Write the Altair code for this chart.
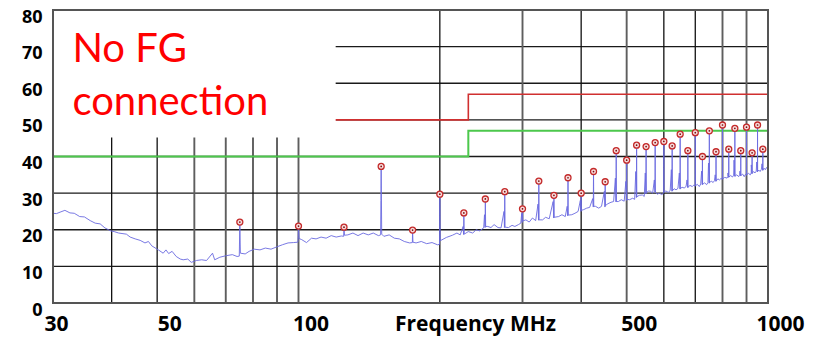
import altair as alt
import pandas as pd

# ---------------- data ----------------
# noise floor of the measured trace (MHz, dBuV)
noise_freq = [30, 30.5, 31.2, 31.8, 32.6, 33.3, 34.2, 35, 36, 36.9, 37.8, 38.7, 39.8, 40.5, 41.4, 43,
              43.8, 44.9, 46, 47.1, 47.9, 48.7, 50.3, 51.5, 52.2, 52.9, 53.8, 54.9, 56, 56.8, 58.1,
              59.1, 60.6, 62.2, 63.7, 65.6, 66.3, 68, 70, 72.3, 74, 74.8, 75.2, 77, 78.5, 80.5, 82.8,
              85, 87.4, 89.8, 92.4, 95, 97.5, 99.7, 100.3, 101.6, 104, 106.6, 109, 111.7, 114.5,
              117.4, 120.3, 123.4, 124.8, 125.3, 127.4, 130.6, 133.9, 137.3, 140.8, 144.3, 148,
              149.6, 150.4, 152, 156, 160, 164, 168, 172.5, 174.8, 175.3, 178, 182.6, 187.5, 192.5,
              197.7, 199.7, 200.4, 206.5, 212.7, 217.5, 221, 224.7, 225.4, 230, 235, 239, 243, 248,
              249.7, 250.4, 253, 257, 261, 266, 270, 274.6, 275.4, 280, 285, 289, 294, 297.5, 299.6,
              300.4, 305, 310, 315, 320, 324.6, 325.4, 331, 336, 342, 349.6, 350.4, 358, 364, 370,
              374.5, 375.5, 382, 388, 394, 399.5, 400.5, 405, 411, 417, 424.5, 425.5, 429, 436, 442,
              449.5, 450.5, 456, 463, 469, 474.5, 475.5, 480, 487, 494, 499.5, 500.5, 507, 515, 520,
              524.5, 525.5, 532, 540, 545, 549.5, 550.5, 556, 562, 568, 574.5, 575.5, 581, 587, 594,
              599.5, 600.5, 606, 613, 619, 624.5, 625.5, 631, 637, 643, 649.5, 650.5, 656, 663, 669,
              674.5, 675.5, 682, 690, 695, 699.5, 700.5, 707, 714, 719, 724.5, 725.5, 733, 740, 745,
              749.5, 750.5, 757, 764, 769, 774.5, 775.5, 782, 788, 794, 799.5, 800.5, 809, 818, 821,
              824.5, 825.5, 833, 840, 845, 849.5, 850.5, 858, 866, 870, 874.5, 875.5, 883, 890, 895,
              899.5, 900.5, 908, 917, 921, 924.5, 925.5, 932, 938, 944, 949.5, 950.5, 956, 962, 968,
              974.5, 975.5, 981, 987, 993, 1000]
noise_level = [24.5, 24.4, 24.9, 25.3, 24.6, 24.5, 23.6, 23.5, 22.5, 21.8, 21.6, 20.5, 19.7, 19.5, 19.1, 18.8,
               18.0, 17.5, 17.1, 16.4, 16.8, 15.6, 14.5, 13.6, 14.5, 13.5, 14.1, 12.7, 12.0, 11.8, 12.0,
               11.1, 11.6, 11.8, 11.6, 13.6, 11.8, 12.5, 12.9, 13.2, 12.7, 12.8, 13.6, 13.4, 14.1, 14.7, 14.5,
               15.0, 14.7, 15.3, 15.9, 16.4, 16.5, 16.6, 17.6, 17.3, 16.5, 17.7, 17.5, 18.0, 17.7,
               18.4, 18.0, 18.3, 18.2, 18.5, 18.6, 19.1, 18.4, 19.1, 18.6, 19.1, 18.4,
               18.6, 18.8, 18.2, 18.6, 17.7, 17.5, 16.8, 16.4, 16.5, 16.6, 16.4, 16.8, 16.2, 16.5,
               15.9, 16.0, 17.0, 17.9, 18.5, 19.1, 18.6, 18.7, 18.8, 19.5, 19.1, 20.0, 19.7, 20.5,
               20.6, 20.9, 20.9, 20.6, 21.4, 20.6, 20.5, 20.6, 20.7, 20.6, 21.2, 20.9, 21.4, 21.8, 22.0,
               22.4, 22.7, 22.1, 23.2, 22.5, 22.6, 22.7, 22.7, 23.4, 23.0, 23.2, 23.4, 23.6, 24.1, 23.6,
               23.8, 24.0, 24.1, 24.5, 25.0, 25.0, 25.3, 25.5, 25.9, 26.1, 26.2, 26.4, 26.4, 25.9, 26.4,
               26.2, 26.6, 27.1, 27.5, 27.7, 27.6, 27.7, 27.7, 28.2, 27.8, 28.0, 28.3, 28.2, 28.6, 28.3,
               28.8, 29.0, 29.4, 29.5, 29.1, 29.8, 30.0, 30.6, 30.5, 30.0, 30.2, 30.3, 29.7, 30.0, 29.6,
               30.0, 30.2, 30.6, 30.2, 30.7, 30.5, 30.6, 31.2, 30.9, 31.3, 31.1, 31.2, 31.6, 31.4, 31.8,
               31.5, 31.6, 32.1, 31.8, 32.2, 31.9, 32.0, 32.4, 31.8, 32.5, 32.3, 32.4, 32.8, 32.3, 32.9,
               32.7, 32.8, 33.3, 32.9, 33.4, 33.2, 33.3, 33.9, 33.6, 34.0, 33.8, 33.9, 34.3, 34.1, 34.5,
               34.3, 34.4, 34.8, 34.4, 34.9, 34.6, 34.6, 35.0, 34.5, 35.0, 34.7, 34.8, 35.2, 34.5, 35.1,
               34.9, 35.0, 35.4, 35.0, 35.5, 35.3, 35.4, 35.9, 35.5, 36.0, 35.8, 35.9, 36.3, 35.9, 36.5,
               36.2, 36.3, 36.8, 36.4, 37.0, 36.5]

# partial rise (secondary line) at the foot of the emissions
shoulder_freq = [99.85, 149.8, 199.85, 224.2, 249.0, 274.0, 298.8, 323.7, 348.6, 373.5, 398.4, 423.3,
                 448.2, 473.1, 498.0, 522.9, 547.8, 572.7, 599.8, 622.5, 647.4, 672.3, 699.8, 722.1,
                 747.0, 771.9, 799.8, 821.7, 846.6, 871.5, 899.8, 921.3, 946.2, 971.1]
shoulder_level = [18.2, 28.0, 24.0, 20.9, 24.1, 25.0, 24.5, 27.0, 27.7, 26.4, 28.0, 28.5,
                  30.5, 34.1, 33.2, 35.9, 35.5, 33.6, 37.0, 36.4, 35.5, 33.6, 39.0, 36.0,
                  38.2, 35.0, 39.5, 35.5, 39.0, 36.0, 40.0, 37.7, 38.5, 38.0]

# marked peaks (red circles)
peak_freq = [75, 100, 125, 150, 175, 200, 225, 250, 275, 300, 325, 350, 375, 400, 425, 450, 475,
             500, 525, 550, 575, 600, 625, 650, 675, 700, 725, 750, 775, 800, 825, 850, 875, 900,
             925, 950, 975]
peak_level = [22.1, 21.0, 20.7, 37.3, 19.9, 29.7, 24.6, 28.4, 30.4, 25.7, 33.3, 29.4, 34.2, 30.0,
              35.9, 33.1, 41.6, 39.0, 43.1, 42.7, 43.8, 44.1, 42.9, 46.1, 41.6, 46.5, 40.0, 47.0,
              41.3, 48.6, 42.0, 47.7, 41.6, 48.0, 41.0, 48.6, 42.0]

# limit lines
red_limit_freq = [30, 230, 230, 1000]
red_limit_level = [50, 50, 57, 57]
green_limit_freq = [30, 230, 230, 1000]
green_limit_level = [40, 40, 47, 47]

# grid
grid_v_freq = [40, 50, 60, 70, 80, 90, 100, 200, 300, 400, 500, 600, 700, 800, 900]
grid_v_shade = ["d", "d", "l", "l", "d", "d", "l", "d", "l", "d", "l", "d", "d", "l", "l"]
grid_h_level = [10, 20, 30, 40, 50, 60, 70]

# axes
x_ticks = [30, 50, 100, 500, 1000]
y_ticks = [0, 10, 20, 30, 40, 50, 60, 70, 80]
x_domain = [30, 1000]
y_domain = [0, 80]

# annotation
note_lines = ["No FG", "connection"]
note_freq = [33, 33]
note_level = [65.7, 51.3]
note_box_freq = [30, 120]
note_box_level = [45.2, 80]

# ---------------- tables ----------------
trace = pd.DataFrame({
    "f": noise_freq + shoulder_freq + peak_freq,
    "v": noise_level + shoulder_level + peak_level,
}).sort_values("f")
peaks = pd.DataFrame({"f": peak_freq, "v": peak_level})
red = pd.DataFrame({"f": red_limit_freq, "v": red_limit_level, "i": range(4)})
green = pd.DataFrame({"f": green_limit_freq, "v": green_limit_level, "i": range(4)})
vgrid = pd.DataFrame({"f": grid_v_freq, "v": y_domain[0], "v2": y_domain[1], "s": grid_v_shade})
hgrid = pd.DataFrame({"f": x_domain[0], "f2": x_domain[1], "v": grid_h_level})
box = pd.DataFrame({"f": [note_box_freq[0]], "f2": [note_box_freq[1]],
                    "v": [note_box_level[0]], "v2": [note_box_level[1]]})
frame = pd.DataFrame({"f": [x_domain[0]], "f2": [x_domain[1]], "v": [y_domain[0]], "v2": [y_domain[1]]})
note = pd.DataFrame({"f": note_freq, "v": note_level, "t": note_lines})

xs = alt.Scale(type="log", domain=x_domain, nice=False)
ys = alt.Scale(domain=y_domain, nice=False, zero=False)

x_axis = alt.Axis(
    values=x_ticks, format="d", grid=False, ticks=False, tickSize=0, domain=False,
    labelFont="Open Sans", labelFontWeight="bold", labelFontSize=21, labelColor="black",
    labelPadding=27, labelBaseline="alphabetic", labelOverlap=False, labelFlush=False, labelBound=False,
    labelOffset={"condition": {"test": "datum.value <= 30", "value": 3}, "value": 12},
    title="Frequency MHz", titleFont="Open Sans", titleFontWeight="bold", titleFontSize=21,
    titleColor="black", titleX=422, titleY=27, titleBaseline="alphabetic", titleAlign="center",
)
y_axis = alt.Axis(
    values=y_ticks, grid=False, ticks=False, tickSize=0, domain=False,
    labelFont="Open Sans", labelFontWeight="bold", labelFontSize=18, labelColor="black",
    labelPadding=11, labelOffset=7, labelOverlap=False, labelFlush=False, labelBound=False, title=None,
)

X = alt.X("f:Q", scale=xs, axis=x_axis)
Y = alt.Y("v:Q", scale=ys, axis=y_axis)

hg = alt.Chart(hgrid).mark_rule(color="#1a1a1a", strokeWidth=1.3).encode(x=X, x2="f2:Q", y=Y)
vg = alt.Chart(vgrid).mark_rule().encode(
    x=X, y=Y, y2="v2:Q",
    color=alt.Color("s:N", scale=alt.Scale(domain=["d", "l"], range=["#111111", "#5e5e5e"]), legend=None),
    strokeWidth=alt.StrokeWidth("s:N", scale=alt.Scale(domain=["d", "l"], range=[1.3, 1.9]), legend=None),
)
red_line = alt.Chart(red).mark_line(color="#d03030", strokeWidth=1.6).encode(x=X, y=Y, order="i:Q")
green_line = alt.Chart(green).mark_line(color="#4cc84c", strokeWidth=2).encode(x=X, y=Y, order="i:Q")
white_box = alt.Chart(box).mark_rect(color="white").encode(x=X, x2="f2:Q", y=Y, y2="v2:Q")
trace_line = alt.Chart(trace).mark_line(color="#6a6ae0", strokeWidth=1, opacity=0.9).encode(x=X, y=Y)
peak_ring = alt.Chart(peaks).mark_point(shape="circle", size=36, filled=True, fill="#f6dcdc",
                                        stroke="#c42a2a", strokeWidth=1.3, opacity=1).encode(x=X, y=Y)
peak_dot = alt.Chart(peaks).mark_point(shape="circle", size=3, filled=True, color="#7a1010",
                                       opacity=1).encode(x=X, y=Y)
note_text = alt.Chart(note).mark_text(font="Lato", fontSize=40, color="#ff0000", align="left",
                                      baseline="alphabetic").encode(x=X, y=Y, text="t:N")
border = alt.Chart(frame).mark_rect(fill=None, stroke="#555555", strokeWidth=2).encode(
    x=X, x2="f2:Q", y=Y, y2="v2:Q")

chart = alt.layer(
    hg, vg, red_line, green_line, white_box, trace_line, peak_ring, peak_dot, note_text, border
).properties(
    width=715, height=293,
    autosize=alt.AutoSizeParams(type="none"),
    padding={"left": 45, "top": 2, "right": 42, "bottom": 34},
    background="white",
).configure_view(strokeWidth=0)

chart.save("out.html", embed_options={"renderer": "svg", "actions": False})
